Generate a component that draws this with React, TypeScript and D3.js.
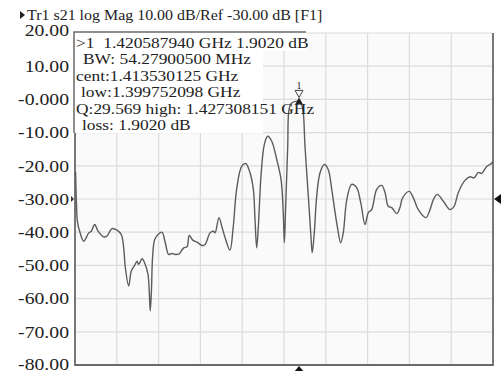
import React, { useEffect, useRef } from 'react'
import * as d3 from 'd3'

// trace: frequency (MHz) and S21 magnitude (dB)
const freqMHz = [
  1300.3, 1300.8, 1301.3, 1302.7, 1304.7, 1307.4, 1308.8, 1310.6, 1312.4, 1315.4, 1317.2, 1319.9, 1322.6,
  1324.9, 1326.2, 1327.1, 1328.9, 1330.3, 1332.1, 1333.4, 1334.3, 1336.1, 1337.8, 1339.3, 1340.0, 1340.5,
  1341.1, 1341.8, 1342.9, 1344.7, 1346.8, 1348.6, 1350.4, 1352.2, 1354.0, 1356.1, 1358.5, 1360.3, 1361.5,
  1363.4, 1365.7, 1368.4, 1370.0, 1372.7, 1374.5, 1375.4, 1377.5, 1379.0, 1381.1, 1383.4, 1385.2, 1387.0,
  1389.7, 1391.9, 1394.2, 1396.0, 1396.9, 1397.8, 1398.7, 1400.1, 1401.9, 1403.7, 1405.9, 1408.6, 1410.9,
  1412.1, 1412.7, 1413.4, 1414.5, 1415.2, 1416.6, 1419.0, 1420.6, 1422.0, 1422.9, 1423.8, 1425.6, 1427.0,
  1427.7, 1428.8, 1430.1, 1431.9, 1434.2, 1436.3, 1438.2, 1440.0, 1441.3, 1443.0, 1444.4, 1446.3, 1448.9,
  1451.6, 1453.8, 1456.1, 1457.9, 1459.7, 1462.4, 1465.1, 1466.9, 1468.6, 1470.5, 1473.2, 1474.9, 1476.4,
  1479.9, 1482.1, 1484.8, 1488.9, 1491.1, 1492.9, 1495.0, 1498.3, 1501.9, 1504.0, 1506.3, 1509.9, 1512.6,
  1514.8, 1517.1, 1518.9, 1521.6, 1523.4, 1525.0,
]
const magDb = [
  -21.7, -31.7, -36.8, -40.1, -42.7, -40.2, -39.7, -37.7, -39.7, -41.4, -41.2, -38.9, -39.4,
  -40.7, -44.7, -50.7, -56.2, -51.7, -50.0, -48.7, -49.7, -48.0, -49.7, -52.7, -58.2, -63.7,
  -58.2, -47.2, -42.2, -40.7, -40.0, -43.2, -46.7, -46.4, -46.7, -46.5, -44.7, -44.4, -41.0,
  -42.4, -43.0, -44.0, -43.7, -40.2, -39.7, -40.2, -35.6, -38.2, -42.2, -45.4, -38.2, -27.1,
  -20.2, -19.3, -22.1, -27.1, -36.2, -44.7, -38.2, -23.2, -13.6, -11.1, -12.6, -18.1, -24.1,
  -34.1, -43.2, -32.2, -14.1, -3.1, -1.1, -0.6, -0.6, -1.6, -4.1, -14.1, -29.2, -41.2,
  -46.2, -40.2, -29.2, -22.1, -19.6, -21.1, -27.1, -34.1, -38.6, -43.2, -40.2, -30.2, -25.6,
  -26.6, -31.1, -37.7, -34.1, -33.2, -27.1, -25.9, -28.1, -32.2, -32.6, -34.4, -32.6, -29.6,
  -27.7, -29.6, -33.2, -35.6, -33.2, -30.2, -28.6, -30.7, -33.2, -32.3, -28.1, -24.4, -23.3,
  -23.6, -22.0, -22.3, -20.2, -19.6, -18.9,
]

const yTickValues = [20, 10, 0, -10, -20, -30, -40, -50, -60, -70, -80]
const yTickLabels = ['20.00', '10.00', '-0.000', '-10.00', '-20.00', '-30.00', '-40.00', '-50.00', '-60.00', '-70.00', '-80.00']

const title = 'Tr1 s21 log Mag 10.00 dB/Ref -30.00 dB [F1]'
const markerFreq = 1420.6
const markerDb = -0.6
const refLevel = -30
const markerLines = [
  '>1  1.420587940 GHz 1.9020 dB',
  'BW: 54.27900500 MHz',
  'cent:1.413530125 GHz',
  'low:1.399752098 GHz',
  'Q:29.569 high: 1.427308151 GHz',
  'loss: 1.9020 dB',
]
const markerIndent = [0, 7, 0, 5, 0, 6]

const App = () => {
  const ref = useRef(null)

  useEffect(() => {
    const width = 502
    const height = 371
    const left = 75
    const right = 493
    const top = 33
    const bottom = 365
    const font = "'Liberation Serif', 'Times New Roman', serif"
    const stretch = 1.16

    const svg = d3.select(ref.current)
    svg.selectAll('*').remove()
    svg.attr('width', width).attr('height', height)

    const x = d3.scaleLinear().domain([1300, 1525]).range([left, right])
    const y = d3.scaleLinear().domain([-80, 20]).range([bottom, top])

    svg.append('rect').attr('width', width).attr('height', height).attr('fill', '#fff')
    svg
      .append('rect')
      .attr('x', left)
      .attr('y', top)
      .attr('width', right - left)
      .attr('height', bottom - top)
      .attr('fill', '#fafafa')

    // grid
    const grid = svg.append('g').attr('stroke', '#dcdcdc').attr('stroke-width', 1.2)
    d3.range(1, 10).forEach((i) => {
      const gx = x(1300 + i * 22.5)
      grid.append('line').attr('x1', gx).attr('x2', gx).attr('y1', top).attr('y2', bottom)
    })
    yTickValues.forEach((v) => {
      grid.append('line').attr('x1', left).attr('x2', right).attr('y1', y(v)).attr('y2', y(v))
    })

    // frame
    svg
      .append('path')
      .attr('d', `M${left},${top}V${bottom}H${right}V${top}`)
      .attr('fill', 'none')
      .attr('stroke', '#6a6a6a')
      .attr('stroke-width', 1.8)

    // y labels
    yTickValues.forEach((v, i) => {
      const shift = i === 0 ? -3 : i === yTickValues.length - 1 ? -1 : 0
      svg
        .append('g')
        .attr('transform', `translate(69,${y(v) + shift}) scale(${stretch},1)`)
        .append('text')
        .attr('text-anchor', 'end')
        .attr('dy', '0.34em')
        .attr('font-family', font)
        .attr('font-size', 17)
        .attr('fill', '#222')
        .text(yTickLabels[i])
    })

    // trace
    const line = d3
      .line()
      .x((d) => x(d[0]))
      .y((d) => y(d[1]))
      .curve(d3.curveCatmullRom.alpha(0.5))
    svg
      .append('path')
      .datum(freqMHz.map((f, i) => [f, magDb[i]]))
      .attr('d', line)
      .attr('fill', 'none')
      .attr('stroke', '#5c5c5c')
      .attr('stroke-width', 1.4)

    // marker readout box
    svg.append('rect').attr('x', 74).attr('y', 32).attr('width', 189).attr('height', 101).attr('fill', '#fff')
    svg.append('rect').attr('x', 74).attr('y', 32).attr('width', 232).attr('height', 19).attr('fill', '#fff')
    svg
      .append('path')
      .attr('d', 'M74,133V32H306')
      .attr('fill', 'none')
      .attr('stroke', '#6a6a6a')
      .attr('stroke-width', 1.5)
    markerLines.forEach((t, i) => {
      svg
        .append('g')
        .attr('transform', `translate(${76 + markerIndent[i]},${48 + i * 16.4}) scale(${stretch},1)`)
        .append('text')
        .attr('font-family', font)
        .attr('font-size', 15)
        .attr('fill', '#222')
        .style('white-space', 'pre')
        .text(t)
    })

    // marker 1
    const mx = x(markerFreq)
    const my = y(markerDb)
    svg
      .append('path')
      .attr('d', `M${mx - 4},${my + 3}L${mx},${my - 4}L${mx + 4},${my + 3}Z`)
      .attr('fill', '#222')
    svg
      .append('path')
      .attr('d', `M${mx - 4},${my - 11}L${mx + 4},${my - 11}L${mx},${my - 4}Z`)
      .attr('fill', 'none')
      .attr('stroke', '#444')
    svg
      .append('text')
      .attr('x', mx)
      .attr('y', my - 12)
      .attr('text-anchor', 'middle')
      .attr('font-family', font)
      .attr('font-size', 11)
      .attr('fill', '#333')
      .text('1')

    // stimulus / reference pointers
    svg.append('path').attr('d', `M${mx},${bottom + 1}l-5,6h10Z`).attr('fill', '#111')
    svg.append('path').attr('d', `M${right + 1},${y(refLevel)}l7,-5v10Z`).attr('fill', '#111')
    svg.append('path').attr('d', `M${left - 1},${y(refLevel)}l-3,-3v6Z`).attr('fill', '#333')

    // title
    svg.append('path').attr('d', 'M20,11L25,15L20,19Z').attr('fill', '#222')
    svg
      .append('g')
      .attr('transform', `translate(27,19.5) scale(1.14,1)`)
      .append('text')
      .attr('font-family', font)
      .attr('font-size', 14)
      .attr('fill', '#222')
      .text(title)
  }, [])

  return <svg ref={ref} style={{ position: 'absolute', left: 0, top: 0 }}></svg>
}

export default App
